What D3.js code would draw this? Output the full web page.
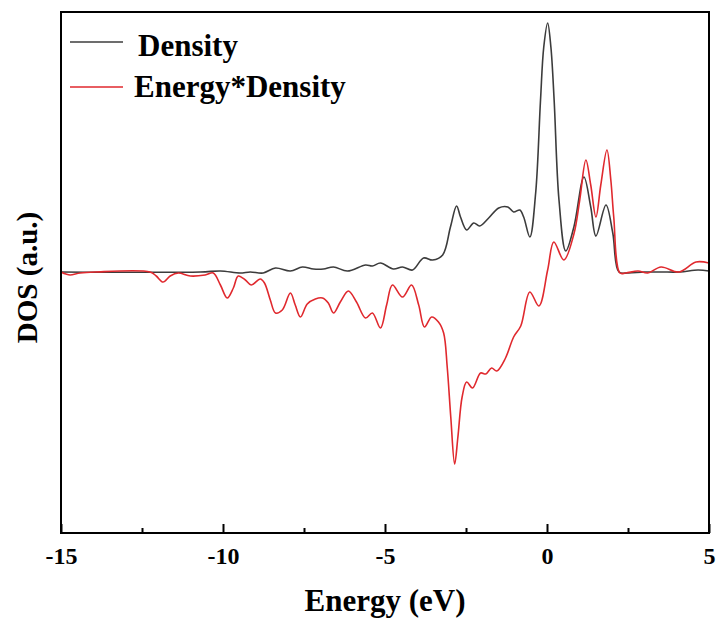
<!DOCTYPE html>
<html>
<head>
<meta charset="utf-8">
<script src="https://cdn.jsdelivr.net/npm/d3@7"></script>
<style>
  html, body { margin: 0; padding: 0; background: #fff; }
  svg text { font-family: "Liberation Serif", "Times New Roman", serif; font-weight: bold; fill: #000; }
</style>
</head>
<body>
<svg id="chart" width="720" height="626"></svg>
<script>
// ---- data (energy in eV, DOS in arbitrary units) ----
const seriesNames = ["Density", "Energy*Density"];
const seriesColors = ["#3c3c3c", "#e0292e"];

const densityE = [-15, -10.7, -10.08, -9.47, -9.16, -8.76, -8.38, -7.92, -7.55, -7.21, -6.9, -6.59, -6.16, -5.6, -5.39, -5.14, -4.74, -4.46, -4.15, -3.81, -3.53, -3.22, -2.98, -2.79, -2.67, -2.48, -2.26, -2.08, -1.8, -1.49, -1.21, -1.03, -0.84, -0.72, -0.53, -0.35, -0.2, -0.1, 0.02, 0.12, 0.22, 0.37, 0.58, 0.83, 1.14, 1.35, 1.51, 1.82, 2.03, 2.22, 2.5, 3.0, 3.52, 4.1, 4.66, 5];
const densityV = [0, 0, 1, -1, 0, -1, 4, 1, 5, 3, 3, 5, 1, 7, 6, 9, 3, 5, 2, 14, 12, 17, 45, 66, 55, 42, 49, 46, 54, 64, 65, 60, 62, 55, 35, 79, 172, 225, 249, 225, 172, 72, 21, 45, 95, 65, 36, 67, 39, 0, -1, 0, 0, 0, 2, 1];

const edensE = [-15, -14.85, -14.72, -14.41, -13.95, -12.25, -12.06, -11.85, -11.63, -11.38, -11.01, -10.55, -10.3, -10.08, -9.87, -9.68, -9.53, -9.31, -9.13, -8.85, -8.72, -8.54, -8.38, -8.17, -7.92, -7.77, -7.61, -7.4, -7.15, -6.93, -6.75, -6.59, -6.38, -6.13, -5.88, -5.6, -5.39, -5.14, -4.95, -4.77, -4.46, -4.18, -3.96, -3.78, -3.56, -3.35, -3.19, -3.08, -2.97, -2.85, -2.75, -2.62, -2.48, -2.3, -2.05, -1.89, -1.71, -1.55, -1.28, -1.03, -0.81, -0.53, -0.25, 0.02, 0.21, 0.52, 0.83, 1.01, 1.2, 1.35, 1.51, 1.66, 1.85, 1.97, 2.06, 2.25, 2.43, 2.81, 3.11, 3.52, 4.07, 4.6, 5];
const edensV = [0, -2, -3, -1, 0, 0, -4, -10, -4, -1, -4, -3, -1, -13, -26, -16, -4, -8, -13, -7, -11, -28, -41, -38, -21, -33, -45, -32, -27, -26, -31, -41, -30, -19, -30, -46, -41, -56, -33, -13, -25, -13, -33, -55, -45, -50, -61, -95, -145, -192, -165, -125, -110, -116, -101, -102, -96, -99, -86, -65, -54, -20, -34, 2, 30, 12, 38, 72, 112, 87, 55, 87, 122, 92, 55, -1, -1, 1, -1, 5, 0, 10, 9];

const xTickValues = [-15, -10, -5, 0, 5];
const xTickLabels = ["-15", "-10", "-5", "0", "5"];
const xMinorTicks = [-12.5, -7.5, -2.5, 2.5];
const xLabel = "Energy (eV)";
const yLabel = "DOS (a.u.)";

// ---- layout ----
const padL = 61, padR = 709, padT = 12, padB = 533;
const svg = d3.select("#chart");

const x = d3.scaleLinear().domain([-15, 5]).range([padL, padR]);
const y = d3.scaleLinear().domain([-261, 260]).range([padB, padT]);

svg.append("defs").append("clipPath").attr("id", "clip")
  .append("rect").attr("x", padL).attr("y", padT).attr("width", padR - padL).attr("height", padB - padT);

const line = d3.line().x(d => x(d[0])).y(d => y(d[1])).curve(d3.curveCatmullRom.alpha(0.5));

const dens = densityE.map((e, i) => [e, densityV[i]]);
const edens = edensE.map((e, i) => [e, edensV[i]]);

const g = svg.append("g").attr("clip-path", "url(#clip)");
g.append("path").datum(dens).attr("d", line).attr("fill", "none")
  .attr("stroke", seriesColors[0]).attr("stroke-width", 1.6);
g.append("path").datum(edens).attr("d", line).attr("fill", "none")
  .attr("stroke", seriesColors[1]).attr("stroke-width", 1.6);

// frame
svg.append("rect").attr("x", padL).attr("y", padT).attr("width", padR - padL).attr("height", padB - padT)
  .attr("fill", "none").attr("stroke", "#000").attr("stroke-width", 2);

// bottom axis (ticks inward)
const xAxis = d3.axisBottom(x).tickValues(xTickValues).tickSizeInner(-9).tickSizeOuter(0)
  .tickFormat((d, i) => xTickLabels[i]);
const ax = svg.append("g").attr("transform", `translate(0,${padB})`).call(xAxis);
ax.select(".domain").remove();
ax.selectAll(".tick line").attr("stroke", "#000").attr("stroke-width", 2);
ax.selectAll(".tick text").attr("y", 14).attr("dy", "0.71em")
  .style("font-size", "24px").style("font-family", "'Liberation Serif', serif").style("font-weight", "bold").attr("fill", "#000");

const minorAxis = d3.axisBottom(x).tickValues(xMinorTicks).tickSizeInner(-5).tickSizeOuter(0).tickFormat("");
const mx = svg.append("g").attr("transform", `translate(0,${padB})`).call(minorAxis);
mx.select(".domain").remove();
mx.selectAll(".tick line").attr("stroke", "#000").attr("stroke-width", 2);

// axis titles
svg.append("text").attr("x", (padL + padR) / 2).attr("y", 611).attr("text-anchor", "middle")
  .style("font-size", "31px").text(xLabel);
svg.append("text").attr("transform", `translate(37,${(padT + padB) / 2 + 5}) rotate(-90)`)
  .attr("text-anchor", "middle").style("font-size", "29px").text(yLabel);

// legend
const legendY = [42, 87];
const legendTextX = [138, 134];
const legendBase = [56, 97];
seriesNames.forEach((name, i) => {
  svg.append("line").attr("x1", 70).attr("x2", 123).attr("y1", legendY[i]).attr("y2", legendY[i])
    .attr("stroke", seriesColors[i]).attr("stroke-width", 1.6);
  svg.append("text").attr("x", legendTextX[i]).attr("y", legendBase[i]).style("font-size", "31px").text(name);
});
</script>
</body>
</html>
